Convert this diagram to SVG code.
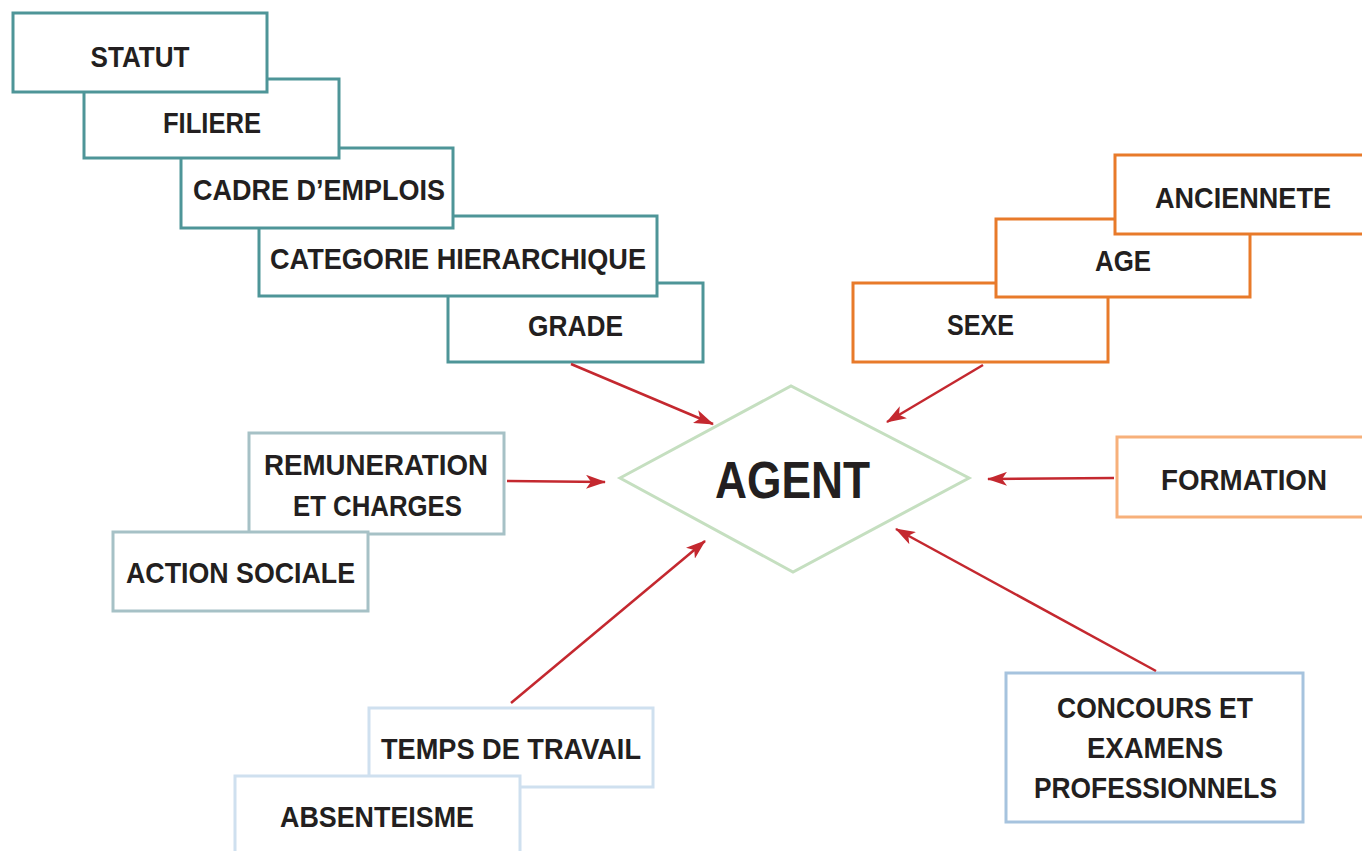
<svg xmlns="http://www.w3.org/2000/svg" width="1362" height="851" viewBox="0 0 1362 851">
<defs>
<marker id="ah" viewBox="0 0 20 14" refX="19" refY="7" markerWidth="20" markerHeight="14" markerUnits="userSpaceOnUse" orient="auto">
<path d="M0,0 L20,7 L0,14 L5,7 Z" fill="#c4282f"/>
</marker>
<style>
rect{fill:#fff;stroke-width:3}
.teal{stroke:#4e9598}
.org{stroke:#e87a2a}
.gb{stroke:#a6c1c6}
.lo{stroke:#f7b07a}
.lb{stroke:#cfe0ef}
.cb{stroke:#a6c3de}
text{font-family:"Liberation Sans",Arial,sans-serif;font-weight:bold;font-size:30px;fill:#231f20;text-anchor:middle}
.con line{stroke:#c4282f;stroke-width:2.5;marker-end:url(#ah)}
</style>
</defs>
<rect width="1362" height="851" fill="#fff" stroke="none"/>
<g id="grade"><rect class="teal" x="448" y="283" width="255" height="79"/><text x="575.5" y="336" textLength="95" lengthAdjust="spacingAndGlyphs">GRADE</text></g>
<g id="categorie"><rect class="teal" x="259" y="216" width="398" height="80"/><text x="458" y="269" textLength="376" lengthAdjust="spacingAndGlyphs">CATEGORIE HIERARCHIQUE</text></g>
<g id="cadre"><rect class="teal" x="181" y="148" width="272" height="80"/><text x="319" y="200" textLength="252" lengthAdjust="spacingAndGlyphs">CADRE D’EMPLOIS</text></g>
<g id="filiere"><rect class="teal" x="84" y="79" width="255" height="79"/><text x="212" y="133" textLength="98" lengthAdjust="spacingAndGlyphs">FILIERE</text></g>
<g id="statut"><rect class="teal" x="13" y="13" width="254" height="79"/><text x="140" y="67" textLength="99" lengthAdjust="spacingAndGlyphs">STATUT</text></g>
<g id="sexe"><rect class="org" x="853" y="283" width="255" height="79"/><text x="980.5" y="335" textLength="67" lengthAdjust="spacingAndGlyphs">SEXE</text></g>
<g id="age"><rect class="org" x="996" y="219" width="254" height="78"/><text x="1123" y="271" textLength="56" lengthAdjust="spacingAndGlyphs">AGE</text></g>
<g id="anciennete"><rect class="org" x="1115" y="155" width="260" height="79"/><text x="1243" y="208" textLength="176" lengthAdjust="spacingAndGlyphs">ANCIENNETE</text></g>
<g id="remuneration"><rect class="gb" x="249" y="433" width="255" height="101"/><text x="376" y="475" textLength="224" lengthAdjust="spacingAndGlyphs">REMUNERATION</text><text x="377.5" y="516" textLength="169" lengthAdjust="spacingAndGlyphs">ET CHARGES</text></g>
<g id="action"><rect class="gb" x="113" y="532" width="255" height="79"/><text x="240.5" y="583" textLength="229" lengthAdjust="spacingAndGlyphs">ACTION SOCIALE</text></g>
<g id="formation"><rect class="lo" x="1117" y="437" width="260" height="80"/><text x="1244" y="490" textLength="166" lengthAdjust="spacingAndGlyphs">FORMATION</text></g>
<g id="temps"><rect class="lb" x="369" y="708" width="284" height="79"/><text x="511" y="759" textLength="260" lengthAdjust="spacingAndGlyphs">TEMPS DE TRAVAIL</text></g>
<g id="absenteisme"><rect class="lb" x="235" y="776" width="285" height="90"/><text x="377" y="827" textLength="194" lengthAdjust="spacingAndGlyphs">ABSENTEISME</text></g>
<g id="concours"><rect class="cb" x="1006" y="673" width="297" height="149"/><text x="1155" y="718" textLength="196" lengthAdjust="spacingAndGlyphs">CONCOURS ET</text><text x="1155" y="758" textLength="136" lengthAdjust="spacingAndGlyphs">EXAMENS</text><text x="1155.5" y="798" textLength="243" lengthAdjust="spacingAndGlyphs">PROFESSIONNELS</text></g>
<g id="agent"><polygon points="620,478 791,386 969,478 793,572" fill="#fff" stroke="#c5dfc0" stroke-width="3"/><text x="792.5" y="498" font-size="52" style="font-size:52px" textLength="155" lengthAdjust="spacingAndGlyphs">AGENT</text></g>
<g class="con" id="connectors">
<line x1="571" y1="364" x2="713" y2="424"/>
<line x1="983" y1="365" x2="887" y2="422"/>
<line x1="507" y1="481" x2="605" y2="482"/>
<line x1="1114" y1="478" x2="988" y2="479"/>
<line x1="511" y1="703" x2="705" y2="541"/>
<line x1="1156" y1="671" x2="896" y2="529"/>
</g>
</svg>
